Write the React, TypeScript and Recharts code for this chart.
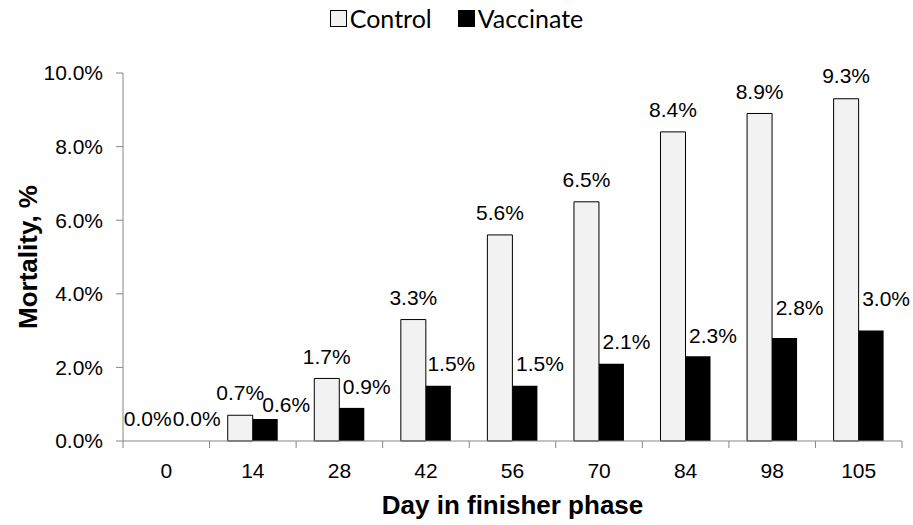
import React from "react";
import { BarChart, Bar, XAxis, YAxis, Legend, LabelList, Cell } from "recharts";

const days = ["0", "14", "28", "42", "56", "70", "84", "98", "105"];
const control = [0.0, 0.7, 1.7, 3.3, 5.6, 6.5, 8.4, 8.9, 9.3];
const vaccinate = [0.0, 0.6, 0.9, 1.5, 1.5, 2.1, 2.3, 2.8, 3.0];
const yTicks = [0, 2, 4, 6, 8, 10];

const data = days.map((d, i) => ({ day: d, control: control[i], vaccinate: vaccinate[i] }));

const W = 913;
const H = 525;
const M = { top: 73, right: 11, bottom: 0, left: 0 };
const Y_W = 123;
const X_H = 84;
const FONT = "'Liberation Sans', Arial, sans-serif";
const AXIS = "#868686";
const TICK = 21;
const TITLE = 26;
const band = (W - M.left - M.right - Y_W) / days.length;

// label nudges (style only)
const ctrlDx = [-6, 0, 0, 0, 0, 0, 0, 0, 0];
const vacDx = [18, 21, 15, 13, 15, 15, 15, 15, 15];
const ctrlDy = [-22, -23, -22, -22, -22, -22, -22, -22, -23];
const vacDy = [-22, -14, -21, -22, -22, -22, -21, -30, -32];

const fmt = (v: number) => v.toFixed(1) + "%";
const zeroMin = (v: any) => (Number(v) === 0 ? 0.01 : 0);

const makeLabel = (dxArr: number[], dyArr: number[]) => (props: any) => {
  const { x, y, width, height, value, index } = props;
  const top = Math.min(y, y + (height || 0));
  return (
    <text
      x={x + width / 2 + dxArr[index]}
      y={top + dyArr[index]}
      textAnchor="middle"
      dominantBaseline="central"
      fontFamily={FONT}
      fontSize={TICK}
      fill="#000"
    >
      {fmt(Number(value))}
    </text>
  );
};

const XTick = (props: any) => {
  const { x, y, payload, index } = props;
  const axisY = y - 2;
  return (
    <g>
      <line x1={x - band / 2} x2={x - band / 2} y1={axisY} y2={axisY + 7} stroke={AXIS} />
      {index === days.length - 1 && (
        <line x1={x + band / 2} x2={x + band / 2} y1={axisY} y2={axisY + 7} stroke={AXIS} />
      )}
      <text x={x} y={axisY + 29} textAnchor="middle" dominantBaseline="central" fontFamily={FONT} fontSize={TICK} fill="#000">
        {payload.value}
      </text>
    </g>
  );
};

const LegendContent = () => (
  <div style={{ display: "flex", justifyContent: "center", alignItems: "center", fontFamily: "Lato, 'Open Sans', sans-serif", fontSize: 25, color: "#000", height: 30 }}>
    <span style={{ display: "inline-block", width: 15, height: 15, background: "#f2f2f2", border: "1px solid #000", marginRight: 3 }} />
    <span style={{ marginRight: 26 }}>Control</span>
    <span style={{ display: "inline-block", width: 17, height: 17, background: "#000", marginRight: 3 }} />
    <span>Vaccinate</span>
  </div>
);

export default function App() {
  return (
    <div style={{ position: "absolute", left: 0, top: 0, width: W, height: H, background: "#fff" }}>
      <BarChart width={W} height={H} data={data} margin={M} barCategoryGap="21%" barGap={0}>
        <Legend
          verticalAlign="top"
          content={<LegendContent />}
          wrapperStyle={{ position: "absolute", top: 3, left: 0, width: W, height: 0 }}
        />
        <XAxis
          dataKey="day"
          height={X_H}
          stroke={AXIS}
          tickLine={false}
          tickSize={0}
          tick={<XTick />}
          interval={0}
          label={(p: any) => {
            const vb = p.viewBox || {};
            return (
              <text x={vb.x + vb.width / 2} y={505} textAnchor="middle" dominantBaseline="central" fontFamily={FONT} fontSize={TITLE} fontWeight="bold" fill="#000">
                Day in finisher phase
              </text>
            );
          }}
        />
        <YAxis
          width={Y_W}
          domain={[0, 10]}
          ticks={yTicks}
          interval={0}
          stroke={AXIS}
          tickSize={7}
          tickMargin={13}
          tickFormatter={fmt}
          tick={{ fontFamily: FONT, fontSize: TICK, fill: "#000" }}
          label={(p: any) => {
            const vb = p.viewBox || {};
            const cy = vb.y + vb.height / 2;
            return (
              <text x={28} y={cy} transform={`rotate(-90, 28, ${cy})`} textAnchor="middle" dominantBaseline="central" fontFamily={FONT} fontSize={TITLE} fontWeight="bold" fill="#000">
                Mortality, %
              </text>
            );
          }}
        />
        <Bar dataKey="control" name="Control" fill="#f2f2f2" stroke="#000" strokeWidth={1} minPointSize={zeroMin} isAnimationActive={false}>
          {control.map((v, i) => (
            <Cell key={i} stroke={v === 0 ? "none" : "#000"} />
          ))}
          <LabelList dataKey="control" content={makeLabel(ctrlDx, ctrlDy)} />
        </Bar>
        <Bar dataKey="vaccinate" name="Vaccinate" fill="#000" minPointSize={zeroMin} isAnimationActive={false}>
          <LabelList dataKey="vaccinate" content={makeLabel(vacDx, vacDy)} />
        </Bar>
      </BarChart>
    </div>
  );
}
